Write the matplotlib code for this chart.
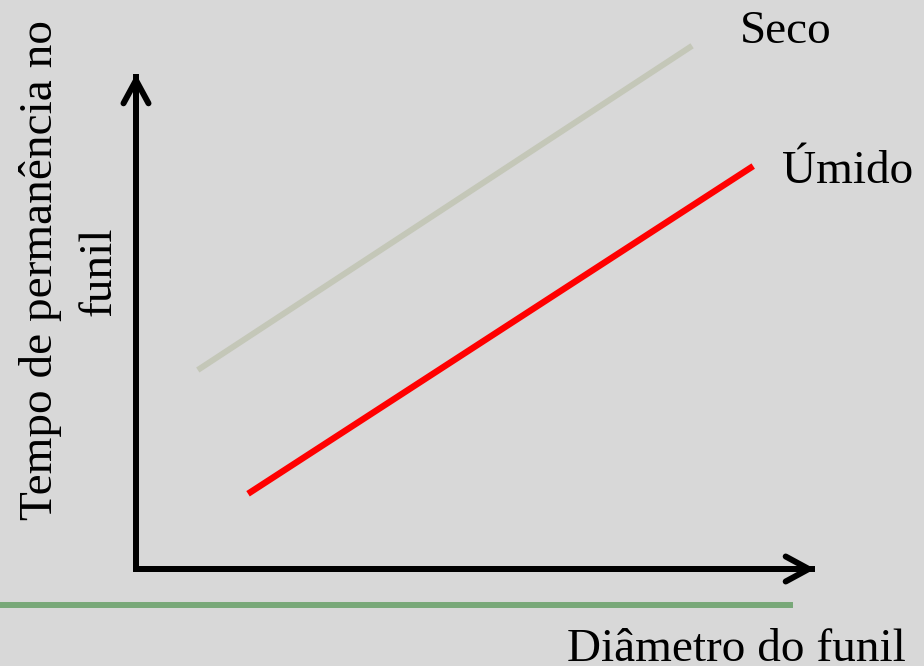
import matplotlib
matplotlib.use('Agg')
import matplotlib.pyplot as plt
from matplotlib.lines import Line2D

# line endpoints (axis units 0..100)
seco_x = [9.1, 81.9]
seco_y = [40.2, 105.7]
umido_x = [16.5, 90.9]
umido_y = [15.2, 81.4]

series_names = ['Seco', 'Úmido']
xlabel = 'Diâmetro do funil'
ylabel_1 = 'Tempo de permanência no'
ylabel_2 = 'funil'

W, H = 924, 666
bg = '#d8d8d8'
plt.rcParams['font.family'] = ['Liberation Serif', 'DejaVu Serif']
fsize = 34

fig = plt.figure(figsize=(W / 100, H / 100), dpi=100)
fig.patch.set_facecolor(bg)

# axes box: origin at (136, 569) px, arrow tips at x=815 and y=74
ax = fig.add_axes([136 / W, 1 - 569 / H, (815 - 136) / W, (569 - 74) / H])
ax.set_facecolor('none')
ax.set_xlim(0, 100)
ax.set_ylim(0, 100)
for s in ax.spines.values():
    s.set_visible(False)
ax.set_xticks([])
ax.set_yticks([])

# axes with arrow heads
ax.plot([0, 0, 100], [100, 0, 0], color='black', lw=4.3,
        solid_joinstyle='miter', solid_capstyle='butt', clip_on=False)
astyle = '->,head_length=1.66,head_width=0.9'
for tip in [(1, 0), (0, 1)]:
    ax.annotate('', xy=tip, xytext=(0, 0), xycoords='axes fraction',
                arrowprops=dict(arrowstyle=astyle, lw=4.3, color='black',
                                shrinkA=0, shrinkB=0, mutation_scale=10,
                                capstyle='round', joinstyle='round'))

ax.plot(seco_x, seco_y, color='#c4c7b8', lw=4.3, solid_capstyle='butt', clip_on=False)
ax.plot(umido_x, umido_y, color='#ff0000', lw=4.6, solid_capstyle='butt', clip_on=False)

# labels
fig.text(740 / W, 1 - 43 / H, series_names[0], fontsize=fsize, ha='left', va='baseline')
fig.text(782 / W, 1 - 183 / H, series_names[1], fontsize=fsize, ha='left', va='baseline')
fig.text(567 / W, 1 - 661 / H, xlabel, fontsize=fsize, ha='left', va='baseline')
fig.text(52 / W, 1 - 270 / H, ylabel_1, fontsize=fsize, rotation=90,
         rotation_mode='anchor', ha='center', va='baseline')
fig.text(110 / W, 1 - 271 / H, ylabel_2, fontsize=fsize, rotation=90,
         rotation_mode='anchor', ha='center', va='baseline')

# green rule under the chart
fig.add_artist(Line2D([0, 790 / W], [1 - 605 / H, 1 - 605 / H],
                      transform=fig.transFigure, color='#78a878', lw=4.3))

fig.savefig('out.png', dpi=100, facecolor=bg)
